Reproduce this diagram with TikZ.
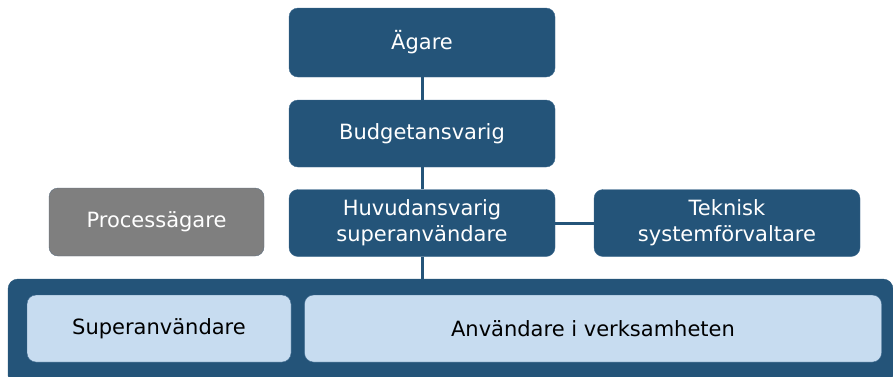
\documentclass[tikz,border=0pt]{standalone}
\usepackage{fontspec}
\setmainfont{DejaVu Sans}
\definecolor{roleblue}{HTML}{245479}
\definecolor{roleedge}{HTML}{3E6A8F}
\definecolor{rolegray}{HTML}{7F7F7F}
\definecolor{grayedge}{HTML}{5E6F80}
\definecolor{userblue}{HTML}{C7DCF0}
\tikzset{
  role/.style={draw=roleedge, fill=roleblue, rounded corners=9pt, text=white,
    align=center, inner sep=0pt, minimum width=266pt, minimum height=67pt,
    font=\fontsize{21}{26}\selectfont},
  userbox/.style={role, draw=roleedge, fill=userblue, text=black, minimum height=67pt},
  link/.style={draw=roleblue, line width=3pt}
}
\begin{document}
\begin{tikzpicture}[x=1pt,y=-1pt]
\useasboundingbox (0,0) rectangle (893,376);
\clip (0,0) rectangle (893,376);
% outer frame
\node[role, draw=roleblue, rounded corners=10pt, minimum width=885pt, minimum height=106pt] (team) at (450.5,332) {};
% roles
\node[role, minimum height=69pt] (agare) at (422,42.5) {Ägare};
\node[role] (budget) at (422,133.5) {Budgetansvarig};
\node[role] (huvud) at (422,223) {Huvudansvarig\\superanvändare};
\node[role] (teknik) at (727,223) {Teknisk\\systemförvaltare};
\node[role, fill=rolegray, draw=grayedge, minimum width=215pt, minimum height=68pt] (process) at (156.5,222) {Processägare};
% users
\node[userbox, minimum width=264pt] (super) at (159,328.5) {Superanvändare};
\node[userbox, minimum width=577pt] (anv) at (593,328.5) {Användare i verksamheten};
% links
\draw[link] (agare) -- (budget);
\draw[link] (budget) -- (huvud);
\draw[link] (huvud.south) -- (huvud.south |- team.north);
\draw[link] (huvud.east) -- (huvud.east -| teknik.west);
\end{tikzpicture}
\end{document}
